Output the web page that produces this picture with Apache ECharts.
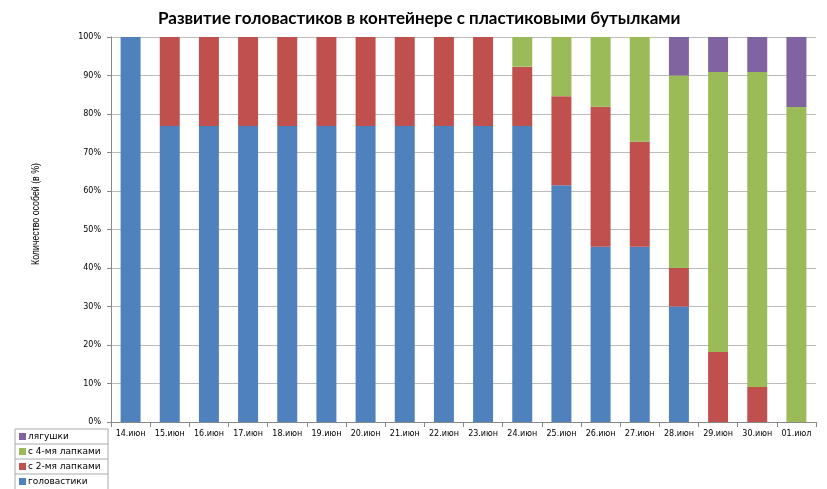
<!DOCTYPE html>
<html>
<head>
<meta charset="utf-8">
<script src="https://cdn.jsdelivr.net/npm/echarts@6/dist/echarts.min.js"></script>
<style>
  html, body { margin: 0; padding: 0; background: #fff; }
  #main { width: 827px; height: 489px; }
</style>
</head>
<body>
<div id="main"></div>
<script>
// данные (в %)
let days = ["14.июн","15.июн","16.июн","17.июн","18.июн","19.июн","20.июн","21.июн","22.июн",
            "23.июн","24.июн","25.июн","26.июн","27.июн","28.июн","29.июн","30.июн","01.июл"]
let tadpoles = [100,76.9,76.9,76.9,76.9,76.9,76.9,76.9,76.9,76.9,76.9,61.5,45.5,45.5,30,0,0,0]
let twoLegs  = [0,23.1,23.1,23.1,23.1,23.1,23.1,23.1,23.1,23.1,15.4,23.1,36.4,27.3,10,18.2,9.1,0]
let fourLegs = [0,0,0,0,0,0,0,0,0,0,7.7,15.4,18.2,27.3,50,72.7,81.8,81.8]
let frogs    = [0,0,0,0,0,0,0,0,0,0,0,0,0,0,10,9.1,9.1,18.2]
let yTicks = ["0%","10%","20%","30%","40%","50%","60%","70%","80%","90%","100%"]

var myChart = echarts.init(document.getElementById('main'))

function bar(name, data, color){
  return {
    name: name,
    type: 'bar',
    stack: 'all',
    data: data,
    barCategoryGap: '49%',
    itemStyle: { color: color },
    emphasis: { disabled: true }
  }
}

var option = {
  animation: false,
  backgroundColor: '#fff',
  title: {
    text: 'Развитие головастиков в контейнере с пластиковыми бутылками',
    left: 153,
    top: 5,
    textStyle: { fontFamily: 'Lato', fontWeight: 'bold', fontSize: 17, color: '#000' }
  },
  legend: {
    orient: 'vertical',
    left: 19,
    top: 432,
    padding: 0,
    itemWidth: 7,
    itemHeight: 7,
    itemGap: 6,
    icon: 'rect',
    data: ['лягушки','с 4-мя лапками','с 2-мя лапками','головастики'],
    textStyle: { fontFamily: 'DejaVu Sans', fontSize: 9, color: '#000', padding: [0,0,0,-3] }
  },
  grid: { left: 111, right: 11, top: 37, bottom: 67 },
  xAxis: {
    type: 'category',
    data: days,
    axisLine: { lineStyle: { color: '#888' } },
    axisTick: { show: true, lineStyle: { color: '#888' } },
    axisLabel: { fontFamily: 'DejaVu Sans', fontSize: 8, color: '#000', margin: 8, interval: 0 }
  },
  yAxis: {
    type: 'value',
    min: 0,
    max: 100,
    interval: 10,
    axisLine: { show: true, lineStyle: { color: '#888' } },
    axisTick: { show: true, length: 4, lineStyle: { color: '#888' } },
    splitLine: { lineStyle: { color: '#bbb' } },
    axisLabel: {
      fontFamily: 'DejaVu Sans', fontSize: 8, color: '#000', margin: 10,
      formatter: function(v){ return yTicks[Math.round(v/10)] }
    }
  },
  graphic: [
    {
      type: 'text',
      x: 36, y: 214,
      rotation: Math.PI/2,
      scaleX: 0.8,
      style: {
        text: 'Количество особей (в %)',
        fontFamily: 'Liberation Sans',
        fontSize: 11,
        fill: '#000',
        align: 'center',
        verticalAlign: 'middle'
      }
    },
    {
      type: 'group',
      children: [
        { type: 'rect', shape: { x: 15, y: 429, width: 93, height: 62 }, style: { fill: 'none', stroke: '#aaa', lineWidth: 1 } },
        { type: 'line', shape: { x1: 15, y1: 444, x2: 108, y2: 444 }, style: { stroke: '#aaa' } },
        { type: 'line', shape: { x1: 15, y1: 459, x2: 108, y2: 459 }, style: { stroke: '#aaa' } },
        { type: 'line', shape: { x1: 15, y1: 474, x2: 108, y2: 474 }, style: { stroke: '#aaa' } }
      ]
    }
  ],
  series: [
    bar('головастики', tadpoles, '#4F81BD'),
    bar('с 2-мя лапками', twoLegs, '#C0504D'),
    bar('с 4-мя лапками', fourLegs, '#9BBB59'),
    bar('лягушки', frogs, '#8064A2')
  ]
}

myChart.setOption(option)
</script>
</body>
</html>
